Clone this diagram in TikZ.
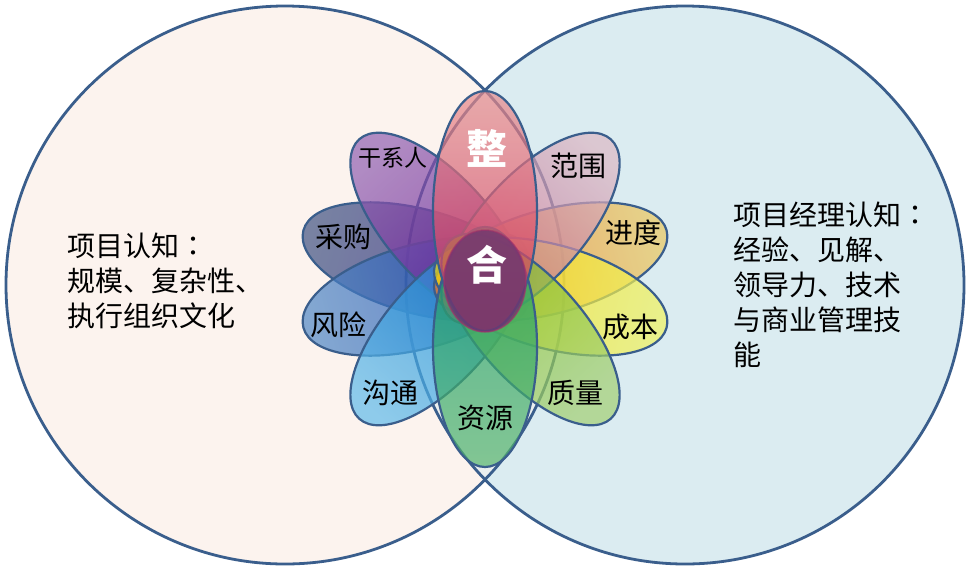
\documentclass[tikz,border=0pt]{standalone}
\usepackage{fontspec}
\newfontfamily\cjk{Noto Sans CJK SC}
\newfontfamily\cjktc{Noto Sans CJK TC}
\definecolor{edge}{RGB}{58,94,140}
\definecolor{peach}{RGB}{252,243,238}
\definecolor{sky}{RGB}{219,236,241}
% tip colours (T) and inner colours (S)
\definecolor{tZheng}{RGB}{231,140,141}    \definecolor{sZheng}{RGB}{210,45,85}
\definecolor{tFanwei}{RGB}{220,184,196}   \definecolor{sFanwei}{RGB}{185,90,135}
\definecolor{tJindu}{RGB}{234,200,95}     \definecolor{sJindu}{RGB}{245,120,30}
\definecolor{tChengben}{RGB}{240,242,96}  \definecolor{sChengben}{RGB}{245,220,10}
\definecolor{tZhiliang}{RGB}{163,207,115} \definecolor{sZhiliang}{RGB}{120,190,30}
\definecolor{tZiyuan}{RGB}{86,181,108}    \definecolor{sZiyuan}{RGB}{20,155,105}
\definecolor{tGoutong}{RGB}{96,187,234}   \definecolor{sGoutong}{RGB}{15,130,210}
\definecolor{tFengxian}{RGB}{80,136,198}  \definecolor{sFengxian}{RGB}{25,70,175}
\definecolor{tCaigou}{RGB}{64,83,131}     \definecolor{sCaigou}{RGB}{40,25,125}
\definecolor{tGanxi}{RGB}{144,95,177}     \definecolor{sGanxi}{RGB}{105,20,145}
\definecolor{cCore}{RGB}{112,52,112}
\definecolor{cRim}{RGB}{165,50,105}
\begin{document}
\begin{tikzpicture}[x=1pt,y=-1pt,
  circ/.style={draw=edge,line width=2.8pt},
  petal/.style n args={3}{draw=edge,line width=2.2pt,fill opacity=0.7,
     top color=#2,bottom color=#3,shading angle={#1-90},rotate around={#1:(485,279)}},
  lab/.style={font=\cjk\fontsize{28}{28}\selectfont,text=black,inner sep=0pt},
  big/.style={font=\cjk\bfseries\fontsize{41}{41}\selectfont,inner sep=0pt,text=white},
  side/.style={font=\cjk\fontsize{28}{35}\selectfont,text=black,inner sep=0pt,align=left,anchor=west}]
\useasboundingbox (0,0) rectangle (972,574);
% big circles
\fill[peach] (285,285) circle [radius=279];
\fill[sky] (685,285) circle [radius=279];
\fill[peach,fill opacity=0.5] (285,285) circle [radius=279];
\draw[circ] (285,285) circle [radius=279];
\draw[circ] (685,285) circle [radius=279];
% petals (flower centre 485,279)
\shadedraw[petal={165}{tCaigou}{sCaigou}] (553,279) ellipse [x radius=120,y radius=52];
\shadedraw[petal={-165}{tFengxian}{sFengxian}] (553,279) ellipse [x radius=120,y radius=52];
\shadedraw[petal={132}{tGanxi}{sGanxi}] (553,279) ellipse [x radius=120,y radius=52];
\shadedraw[petal={-132}{tGoutong}{sGoutong}] (553,279) ellipse [x radius=120,y radius=52];
\shadedraw[petal={15}{tJindu}{sJindu}] (553,279) ellipse [x radius=120,y radius=52];
\shadedraw[petal={-15}{tChengben}{sChengben}] (553,279) ellipse [x radius=120,y radius=52];
\shadedraw[petal={48}{tFanwei}{sFanwei}] (553,279) ellipse [x radius=120,y radius=52];
\shadedraw[petal={-48}{tZhiliang}{sZhiliang}] (553,279) ellipse [x radius=120,y radius=52];
\shadedraw[petal={-90}{tZiyuan}{sZiyuan}] (553,279) ellipse [x radius=120,y radius=52];
\shadedraw[petal={90}{tZheng}{sZheng}] (553,279) ellipse [x radius=120,y radius=52];
% core
\draw[draw=cRim,draw opacity=0.6,line width=1.5pt,fill=cCore,fill opacity=0.8] (485,281) ellipse [x radius=41,y radius=51];
% petal labels
\node[lab,font=\cjk\fontsize{23}{23}\selectfont] (ganxi) at (393,158) {干系人};
\node[lab] (fanwei) at (578,166) {范围};
\node[lab] (jindu) at (633,233) {进度};
\node[lab] (caigou) at (343,237) {采购};
\node[lab] (fengxian) at (338,325) {风险};
\node[lab] (chengben) at (630,327) {成本};
\node[lab] (goutong) at (390,393) {沟通};
\node[lab] (zhiliang) at (575,393) {质量};
\node[lab] (ziyuan) at (485,418) {资源};
% centre words
\node[big] (zheng) at (487,148) {整};
\node[big] (he) at (487,265) {合};
% side texts
\node[side] (lefttext) at (67,281) {项目认知{\cjktc ：}\\规模、复杂性、\\执行组织文化};
\node[side] (righttext) at (733,285) {项目经理认知{\cjktc ：}\\经验、见解、\\领导力、技术\\与商业管理技\\能};
\end{tikzpicture}
\end{document}
